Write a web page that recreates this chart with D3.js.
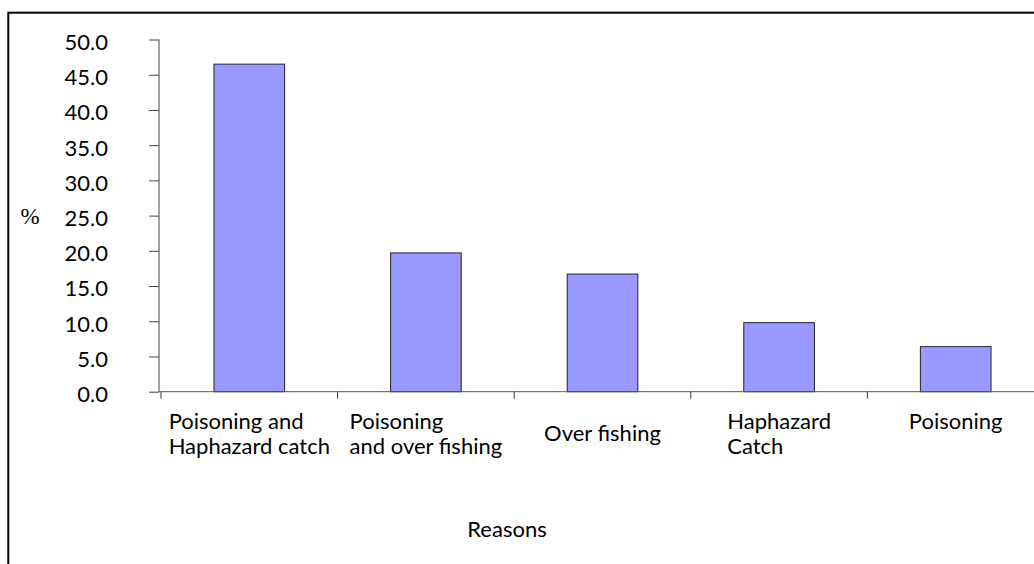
<!DOCTYPE html>
<html>
<head>
<meta charset="utf-8">
<script src="https://cdn.jsdelivr.net/npm/d3@7"></script>
<style>
  html, body { margin: 0; padding: 0; background: #fff; }
  svg { display: block; }
  text { font-family: Lato, "Open Sans", sans-serif; fill: #000; }
</style>
</head>
<body>
<svg id="chart" width="1034" height="564"></svg>
<script>
// Reasons and their share (%)
const categories = [
  ["Poisoning and", "Haphazard catch"],
  ["Poisoning", "and over fishing"],
  ["Over fishing"],
  ["Haphazard", "Catch"],
  ["Poisoning"]
];
const values = [46.5, 19.7, 16.7, 9.8, 6.4];
const yTicks = [0, 5, 10, 15, 20, 25, 30, 35, 40, 45, 50];
const yLabel = "%";
const xLabel = "Reasons";

const W = 1034, H = 564;
const FS = 22;
const svg = d3.select("#chart");

// chart frame (extends past the right and bottom edges)
svg.append("rect")
  .attr("x", 8.3).attr("y", 12.7)
  .attr("width", 1100).attr("height", 700)
  .attr("fill", "none").attr("stroke", "#000").attr("stroke-width", 2);

const plot = { left: 159, right: 1034, top: 39.5, bottom: 391.7 };

const keys = categories.map((c, i) => i);
const x = d3.scaleBand().domain(keys).range([161, 1044]).padding(0);
const y = d3.scaleLinear().domain([0, 50]).range([plot.bottom, plot.top]);

const barW = x.bandwidth() * 0.4;

// bars
svg.append("g").selectAll("rect")
  .data(values)
  .join("rect")
  .attr("x", (d, i) => x(i) + (x.bandwidth() - barW) / 2)
  .attr("y", d => y(d))
  .attr("width", barW)
  .attr("height", d => y(0) - y(d))
  .attr("fill", "#9999ff")
  .attr("stroke", "#222")
  .attr("stroke-width", 1);

// y axis
const yAxis = d3.axisLeft(y)
  .tickValues(yTicks)
  .tickSize(10)
  .tickPadding(0)
  .tickFormat(d3.format(".1f"));
const gy = svg.append("g")
  .attr("transform", `translate(${plot.left},0)`)
  .call(yAxis);
gy.attr("font-size", null).attr("font-family", null);
gy.select(".domain").attr("d", `M0,${plot.top}V${plot.bottom}`).attr("stroke", "#444");
gy.selectAll(".tick line").attr("stroke", "#444");
gy.selectAll(".tick text")
  .attr("x", -51)
  .attr("dy", "0.45em")
  .style("font-size", FS + "px")
  .attr("text-anchor", "end");

// x axis line and category boundary ticks
const gx = svg.append("g");
gx.append("line")
  .attr("x1", plot.left).attr("x2", plot.right)
  .attr("y1", y(0)).attr("y2", y(0))
  .attr("stroke", "#555");
const bounds = keys.map(k => x(k)).concat([x(keys[keys.length - 1]) + x.bandwidth()]);
gx.selectAll("line.tk")
  .data(bounds)
  .join("line")
  .attr("class", "tk")
  .attr("x1", d => d).attr("x2", d => d)
  .attr("y1", y(0)).attr("y2", y(0) + 7)
  .attr("stroke", "#333");

// category labels: lines left-aligned, block centred under its bar;
// the middle label sits centred on the two-line band
const lineH = 25;
const middleIndex = Math.floor(categories.length / 2);
const labels = svg.append("g").style("font-size", FS + "px");
categories.forEach((lines, i) => {
  const cx = x(i) + x.bandwidth() / 2;
  const baseY = (i === middleIndex && lines.length === 1) ? 441 : 429;
  const t = labels.append("text");
  lines.forEach((ln, j) => {
    t.append("tspan").attr("y", baseY + j * lineH).text(ln);
  });
  const widths = [];
  t.selectAll("tspan").each(function () { widths.push(this.getComputedTextLength()); });
  const bw = d3.max(widths);
  t.selectAll("tspan").attr("x", cx - bw / 2);
});

// axis titles
svg.append("text")
  .attr("x", 30).attr("y", 224)
  .attr("text-anchor", "middle")
  .style("font-family", "'Liberation Serif', serif")
  .style("font-size", "23px")
  .text(yLabel);

svg.append("text")
  .attr("x", 507).attr("y", 537)
  .attr("text-anchor", "middle")
  .style("font-size", FS + "px")
  .text(xLabel);
</script>
</body>
</html>
